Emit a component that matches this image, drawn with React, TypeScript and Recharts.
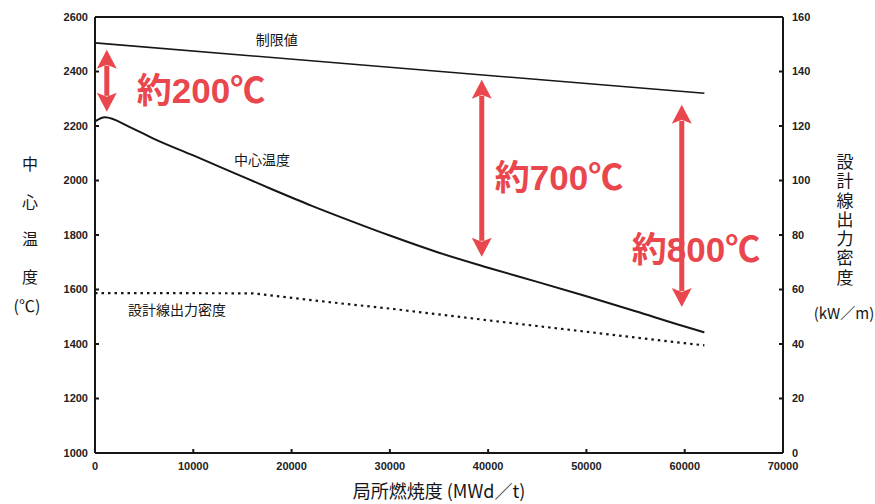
import { Label, Line, LineChart, ReferenceDot, ReferenceLine, XAxis, YAxis } from "recharts";

// axis ticks
const BURNUP_TICKS = [0, 10000, 20000, 30000, 40000, 50000, 60000, 70000];
const TEMP_TICKS = [1000, 1200, 1400, 1600, 1800, 2000, 2200, 2400, 2600];
const POWER_TICKS = [0, 20, 40, 60, 80, 100, 120, 140, 160];

// 中心温度 (℃)
const CENTER_BURNUP = [0, 1000, 3500, 6000, 10000, 14000, 18000, 22000, 26000, 30000, 35000, 40000, 45000, 50000, 55000, 60000, 62000];
const CENTER_TEMP = [2217, 2232, 2197, 2153, 2092, 2030, 1968, 1908, 1852, 1798, 1735, 1680, 1628, 1575, 1520, 1464, 1443];

// 制限値 (℃)
const LIMIT_BURNUP = [0, 62000];
const LIMIT_TEMP = [2505, 2320];

// 設計線出力密度 (kW/m)
const POWER_BURNUP = [0, 16000, 25000, 30000, 40000, 50000, 60000, 62000];
const LINEAR_POWER = [58.7, 58.6, 54.9, 53.0, 48.7, 44.5, 40.3, 39.5];

// margin arrows: burnup, upper and lower temperature
const GAP_LABELS = ["約200℃", "約700℃", "約800℃"];
const GAP_BURNUP = [1200, 39350, 59700];
const GAP_TOP = [2480, 2370, 2278];
const GAP_BOTTOM = [2252, 1720, 1536];

const SERIES_NAMES = ["制限値", "中心温度", "設計線出力密度"];

// ---- layout / style ----
const W = 875;
const H = 504;
const INK = "#161616";
const RED = "#e9474d";
const JP = "'Noto Sans CJK JP', 'Noto Sans', sans-serif";
const NUM = "'Liberation Sans', Arial, sans-serif";

const NAME_AT: [number, number][] = [
  [18500, 2514],
  [17000, 2076],
  [8340, 1524],
];
const GAP_TEXT_OFFSET: [number, number][] = [
  [30, 10],
  [13, 9],
  [-50, 44],
];

const tickStyle = { fontSize: 11, fontWeight: 700, fill: "#222", fontFamily: NUM };

const toPoints = (xs: number[], ys: number[]) => xs.map((x, i) => ({ x, y: ys[i] }));

function arrowShape(label: string, offset: [number, number]) {
  return (props: any) => {
    const x = props.x1;
    const top = Math.min(props.y1, props.y2);
    const bottom = Math.max(props.y1, props.y2);
    const headLen = 19;
    const headHalf = 10;
    const mid = (top + bottom) / 2;
    return (
      <g>
        <rect x={x - 2.5} y={top + headLen - 3} width={5} height={bottom - top - 2 * headLen + 6} fill={RED} />
        <polygon
          points={`${x},${top} ${x - headHalf},${top + headLen} ${x},${top + headLen - 4} ${x + headHalf},${top + headLen}`}
          fill={RED}
        />
        <polygon
          points={`${x},${bottom} ${x - headHalf},${bottom - headLen} ${x},${bottom - headLen + 4} ${x + headHalf},${bottom - headLen}`}
          fill={RED}
        />
        <text
          x={x + offset[0]}
          y={mid + offset[1]}
          dominantBaseline="central"
          fontSize={35}
          fontWeight={700}
          fill={RED}
          fontFamily={`'Liberation Sans', ${JP}`}
        >
          {label}
        </text>
      </g>
    );
  };
}

function LeftTitle(props: any) {
  const vb = props.viewBox ?? { x: 0, y: 17 };
  const cx = vb.x + 30;
  const chars = ["中", "心", "温", "度"];
  return (
    <g fontFamily={JP} fontSize={16} fill={INK} textAnchor="middle">
      {chars.map((c, i) => (
        <text key={c} x={cx} y={vb.y + 146 + i * 37.5} dominantBaseline="central">
          {c}
        </text>
      ))}
      <text x={cx - 3} y={vb.y + 288} dominantBaseline="central">
        (℃)
      </text>
    </g>
  );
}

function RightTitle(props: any) {
  const vb = props.viewBox ?? { x: 783, y: 17 };
  const cx = vb.x + 62;
  return (
    <g fontFamily={JP} fill={INK}>
      <text
        x={cx}
        y={vb.y + 136}
        fontSize={17}
        letterSpacing={2.3}
        style={{ writingMode: "vertical-rl" }}
      >
        設計線出力密度
      </text>
      <text x={cx - 1} y={vb.y + 295} textAnchor="middle" dominantBaseline="central" fontSize={15}>
        (kW／m)
      </text>
    </g>
  );
}

function BottomTitle(props: any) {
  const vb = props.viewBox ?? { x: 95, y: 453, width: 688 };
  return (
    <text
      x={vb.x + vb.width / 2}
      y={vb.y + 37}
      textAnchor="middle"
      dominantBaseline="central"
      fontFamily={JP}
      fontSize={18}
      fill={INK}
    >
      局所燃焼度 (MWd／t)
    </text>
  );
}

export default function App() {
  const center = toPoints(CENTER_BURNUP, CENTER_TEMP);
  const limit = toPoints(LIMIT_BURNUP, LIMIT_TEMP);
  const power = toPoints(POWER_BURNUP, LINEAR_POWER);

  return (
    <div style={{ position: "absolute", left: 0, top: 0, width: W, height: H, background: "#fff" }}>
      <LineChart width={W} height={H} margin={{ top: 17, right: 0, bottom: 0, left: 0 }}>
        <XAxis
          type="number"
          dataKey="x"
          domain={[0, 70000]}
          ticks={BURNUP_TICKS}
          interval={0}
          height={51}
          tickSize={-4}
          tickMargin={13}
          tick={tickStyle}
          stroke={INK}
          strokeWidth={2}
        >
          <Label content={BottomTitle} />
        </XAxis>
        <YAxis
          yAxisId="temp"
          type="number"
          domain={[1000, 2600]}
          ticks={TEMP_TICKS}
          interval={0}
          width={95}
          tickSize={-4}
          tickMargin={11}
          tick={tickStyle}
          stroke={INK}
          strokeWidth={2}
        >
          <Label content={LeftTitle} />
        </YAxis>
        <YAxis
          yAxisId="power"
          orientation="right"
          type="number"
          domain={[0, 160]}
          ticks={POWER_TICKS}
          interval={0}
          width={92}
          tickSize={-4}
          tickMargin={13}
          tick={tickStyle}
          stroke={INK}
          strokeWidth={2}
        >
          <Label content={RightTitle} />
        </YAxis>

        {/* top edge of the frame */}
        <ReferenceLine yAxisId="temp" y={2600} stroke={INK} strokeWidth={2} />

        <Line
          yAxisId="temp"
          data={limit}
          dataKey="y"
          type="linear"
          stroke={INK}
          strokeWidth={1.6}
          dot={false}
          isAnimationActive={false}
        />
        <Line
          yAxisId="temp"
          data={center}
          dataKey="y"
          type="monotone"
          stroke={INK}
          strokeWidth={2}
          dot={false}
          isAnimationActive={false}
        />
        <Line
          yAxisId="power"
          data={power}
          dataKey="y"
          type="linear"
          stroke={INK}
          strokeWidth={2.2}
          strokeDasharray="2.5 4"
          dot={false}
          isAnimationActive={false}
        />

        {SERIES_NAMES.map((name, i) => (
          <ReferenceDot
            key={name}
            yAxisId="temp"
            x={NAME_AT[i][0]}
            y={NAME_AT[i][1]}
            r={0}
            fill="none"
            stroke="none"
            label={{ value: name, position: "center", fontSize: 14, fill: INK, fontFamily: JP }}
          />
        ))}

        {GAP_LABELS.map((label, i) => (
          <ReferenceLine
            key={label}
            yAxisId="temp"
            segment={[
              { x: GAP_BURNUP[i], y: GAP_TOP[i] },
              { x: GAP_BURNUP[i], y: GAP_BOTTOM[i] },
            ]}
            shape={arrowShape(label, GAP_TEXT_OFFSET[i])}
          />
        ))}
      </LineChart>
    </div>
  );
}
